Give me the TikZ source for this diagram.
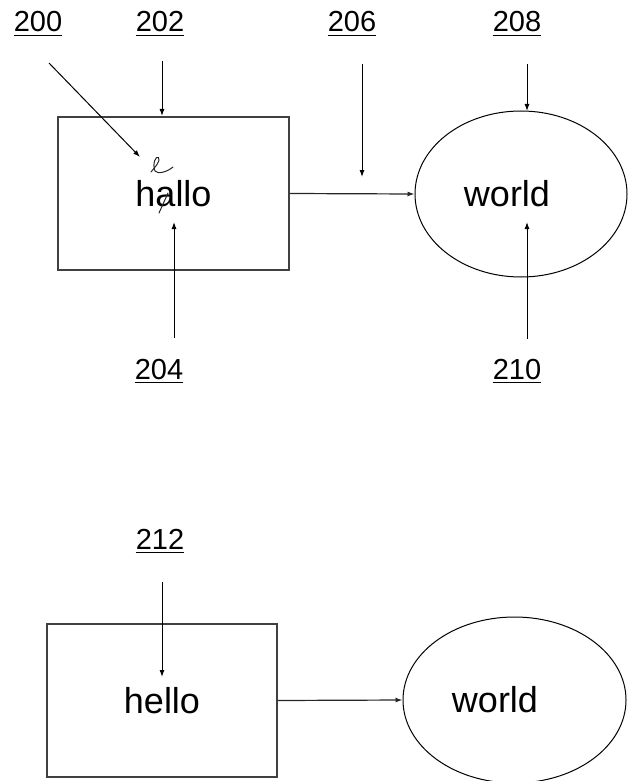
\documentclass[tikz,border=0pt]{standalone}
\usepackage{fontspec}
\setmainfont{Liberation Sans}
\usetikzlibrary{shapes.geometric,arrows.meta}

\tikzset{
  boxnode/.style={draw=black!75, line width=1.5pt, minimum width=231pt,
    minimum height=153pt, inner sep=0pt},
  ovalnode/.style={ellipse, draw=black, line width=1pt, inner sep=0pt},
  word/.style={inner sep=0pt, font=\fontsize{36pt}{40pt}\selectfont},
  refnum/.style={inner sep=0pt, anchor=base, font=\fontsize{29pt}{32pt}\selectfont},
  uline/.style={line width=1.9pt, black},
  pointer/.style={line width=1pt, black, -{Latex[length=7pt,width=5pt]}},
  link/.style={line width=1.2pt, black!85, -{Latex[length=7pt,width=5pt]}},
  ink/.style={line width=1pt, black!85, line cap=round, line join=round}
}

\begin{document}
\begin{tikzpicture}[x=1pt, y=-1pt]
  \useasboundingbox (0,0) rectangle (627,781);

  % ---------- upper figure ----------
  \node[boxnode] (box1) at (173.5,193.5) {};
  \node[word] (hallo) at (173.5,193.5) {hallo};
  \node[ovalnode, minimum width=212pt, minimum height=166pt] (oval1) at (521,194) {};
  \node[word] (world1) at (507,194) {world};

  % hand-written correction over the "a"
  \draw[ink] (151,172) .. controls (155,167) and (161,161) .. (158.5,157.5)
             .. controls (156,155) and (152,164) .. (155,171)
             .. controls (158,174.5) and (167,172) .. (173,167);
  \draw[ink] (159,213) -- (168,193);

  % reference numerals
  \node[refnum] (n200) at (38,32) {200};
  \node[refnum] (n202) at (160,32) {202};
  \node[refnum] (n206) at (352,32) {206};
  \node[refnum] (n208) at (517,32) {208};
  \node[refnum] (n204) at (159,379) {204};
  \node[refnum] (n210) at (517,379) {210};
  \foreach \n in {n200,n202,n206,n208,n204,n210}
    \draw[uline] ([yshift=-3.5pt]\n.base west) -- ([yshift=-3.5pt]\n.base east);

  % pointer tails and heads
  \coordinate (t200) at (49,63);   \coordinate (h200) at (140,157);
  \coordinate (t202) at (162,61);  \coordinate (h202) at (162,116);
  \coordinate (t204) at (174,338); \coordinate (h204) at (174,222);
  \coordinate (t206) at (362,64);  \coordinate (h206) at (362,177);
  \coordinate (t208) at (527,64);  \coordinate (h208) at (527,111);
  \coordinate (t210) at (527,339); \coordinate (h210) at (527,222);

  \draw[pointer] (t200) -- (h200);
  \draw[pointer] (t202) -- (h202);
  \draw[pointer] (t204) -- (h204);
  \draw[pointer] (t206) -- (h206);
  \draw[pointer] (t208) -- (h208);
  \draw[pointer] (t210) -- (h210);

  \draw[link] (box1.east) -- (oval1.west);

  % ---------- lower figure ----------
  \node[boxnode, minimum width=230pt] (box2) at (162,700.5) {};
  \node[word] (hello) at (162,700.5) {hello};
  \node[ovalnode, minimum width=223pt, minimum height=166pt] (oval2) at (514.5,700) {};
  \node[word] (world2) at (495,700) {world};

  \node[refnum] (n212) at (160,549) {212};
  \draw[uline] ([yshift=-3.5pt]n212.base west) -- ([yshift=-3.5pt]n212.base east);

  \coordinate (t212) at (162,582); \coordinate (h212) at (162,677);
  \draw[pointer] (t212) -- (h212);

  \draw[link] (box2.east) -- (oval2.west);
\end{tikzpicture}
\end{document}
